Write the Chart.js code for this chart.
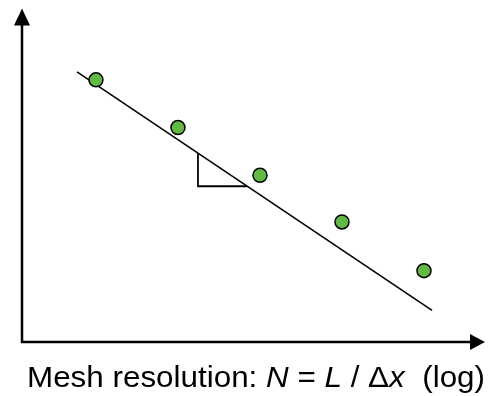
<!DOCTYPE html>
<html>
<head>
<meta charset="utf-8">
<script src="https://cdn.jsdelivr.net/npm/chart.js@4"></script>
<style>
  html, body { margin: 0; padding: 0; background: #fff; }
  #wrap { width: 502px; height: 396px; }
</style>
</head>
<body>
<div id="wrap"><canvas id="myChart" width="502" height="396"></canvas></div>
<script>
// error vs mesh resolution, both on log axes (no ticks in the picture)
const meshX = [1, 2, 3, 4, 5];
const errorY = [7.86, 6.43, 5.0, 3.60, 2.14];
// fitted slope line, drawn a bit past the data
const fitX = [0.769, 5.098];
const fitY = [8.10, 0.95];
// the little slope triangle under the line
const triX = [2.244, 2.244, 2.842];
const triY = [5.66, 4.67, 4.67];
const xTitle = [
    ['Mesh resolution: ', false],
    ['N', true],
    [' = ', false],
    ['L', true],
    [' / \u0394', false],
    ['x', true],
    ['  (log)', false]
];

function toPoints(xs, ys) {
    return xs.map((x, i) => ({ x: x, y: ys[i] }));
}

// draws the two arrow axes and the mixed italic axis label
const axesArrows = {
    id: 'axesArrows',
    afterDraw(chart) {
        const c = chart.ctx;
        const a = chart.chartArea;
        c.save();
        c.strokeStyle = '#000';
        c.fillStyle = '#000';
        c.lineWidth = 2.5;
        c.beginPath();
        c.moveTo(a.left, a.top + 15);
        c.lineTo(a.left, a.bottom);
        c.lineTo(a.right - 14, a.bottom);
        c.stroke();
        // arrow heads
        c.beginPath();
        c.moveTo(a.left, a.top);
        c.lineTo(a.left - 8, a.top + 17);
        c.lineTo(a.left + 8, a.top + 17);
        c.closePath();
        c.fill();
        c.beginPath();
        c.moveTo(a.right, a.bottom);
        c.lineTo(a.right - 15, a.bottom - 8);
        c.lineTo(a.right - 15, a.bottom + 8);
        c.closePath();
        c.fill();

        // label, stretched a little to the width it has in the picture
        const size = 30;
        const fam = '"Liberation Sans", Arial, sans-serif';
        let total = 0;
        xTitle.forEach(p => {
            c.font = (p[1] ? 'italic ' : '') + size + 'px ' + fam;
            total += c.measureText(p[0]).width;
        });
        const left = 27, right = 485;
        c.translate(left, 387);
        c.scale((right - left) / total, 1);
        let x = 0;
        c.textBaseline = 'alphabetic';
        xTitle.forEach(p => {
            c.font = (p[1] ? 'italic ' : '') + size + 'px ' + fam;
            c.fillText(p[0], x, 0);
            x += c.measureText(p[0]).width;
        });
        c.restore();
    }
};

document.addEventListener('DOMContentLoaded', function() {
    const ctx = document.getElementById('myChart').getContext('2d');
    new Chart(ctx, {
        type: 'scatter',
        data: {
            datasets: [{
                data: toPoints(fitX, fitY),
                showLine: true,
                borderColor: '#000',
                borderWidth: 1.6,
                pointRadius: 0,
                order: 2
            }, {
                data: toPoints(triX, triY),
                showLine: true,
                borderColor: '#000',
                borderWidth: 1.8,
                pointRadius: 0,
                order: 2
            }, {
                data: toPoints(meshX, errorY),
                backgroundColor: '#62b946',
                borderColor: '#000',
                borderWidth: 1.5,
                pointRadius: 7,
                order: 1
            }]
        },
        options: {
            responsive: false,
            animation: false,
            layout: {
                padding: { left: 22, top: 6, right: 17, bottom: 54 }
            },
            plugins: {
                legend: { display: false },
                tooltip: { enabled: false }
            },
            scales: {
                x: { type: 'linear', min: 0.098, max: 5.744, display: false },
                y: { type: 'linear', min: 0, max: 10, display: false }
            }
        },
        plugins: [axesArrows]
    });
});
</script>
</body>
</html>
